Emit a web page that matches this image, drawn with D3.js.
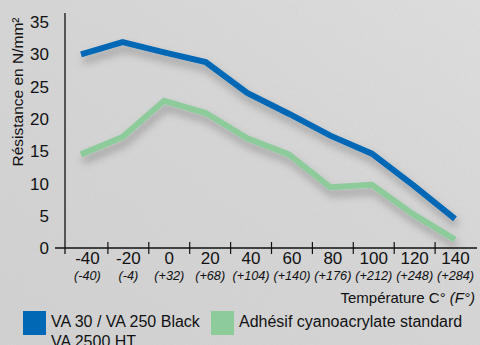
<!DOCTYPE html>
<html>
<head>
<meta charset="utf-8">
<script src="https://cdn.jsdelivr.net/npm/d3@7"></script>
<style>
  html, body { margin: 0; padding: 0; background: #d6d6d7; }
  svg { display: block; font-family: "Liberation Sans", Arial, sans-serif; }
</style>
</head>
<body>
<div class="chart"></div>
<script>
// températures (°C) et équivalents °F
const tempsC = [-40, -20, 0, 20, 40, 60, 80, 100, 120, 140];
const tempsF = ['(-40)', '(-4)', '(+32)', '(+68)', '(+104)', '(+140)', '(+176)', '(+212)', '(+248)', '(+284)'];
const yTicks = [0, 5, 10, 15, 20, 25, 30, 35];

// résistance en N/mm²
const vaValues = [30.0, 31.9, 30.3, 28.8, 24.0, 20.8, 17.4, 14.6, 9.7, 4.5];
const cyanoValues = [14.5, 17.2, 22.8, 20.9, 17.0, 14.5, 9.4, 9.8, 5.2, 1.3];

const series = [
    { name: 'VA 30 / VA 250 Black', name2: 'VA 2500 HT', values: vaValues, color: '#0068b5' },
    { name: 'Adhésif cyanoacrylate standard', values: cyanoValues, color: '#8dcb9b' }
];

const W = 480, H = 345;

const svg = d3.select('.chart').append('svg')
    .attr('width', W).attr('height', H);

// fond béton
const defs = svg.append('defs');
const grad = defs.append('linearGradient').attr('id', 'bg')
    .attr('x1', 0).attr('y1', 1).attr('x2', 1).attr('y2', 0);
grad.append('stop').attr('offset', 0).attr('stop-color', '#d2d2d3');
grad.append('stop').attr('offset', 0.6).attr('stop-color', '#d8d8d9');
grad.append('stop').attr('offset', 1).attr('stop-color', '#e0e0e1');
const tex = defs.append('filter').attr('id', 'concrete')
    .attr('x', 0).attr('y', 0).attr('width', '100%').attr('height', '100%');
tex.append('feTurbulence').attr('type', 'fractalNoise')
    .attr('baseFrequency', '0.9 0.35').attr('numOctaves', 3).attr('seed', 4).attr('result', 'n');
tex.append('feColorMatrix').attr('type', 'matrix')
    .attr('values', '0 0 0 0 0.5  0 0 0 0 0.5  0 0 0 0 0.5  0 0 0 0.22 0');
const shadow = defs.append('filter').attr('id', 'shadow')
    .attr('x', '-10%').attr('y', '-20%').attr('width', '130%').attr('height', '160%');
shadow.append('feDropShadow').attr('dx', 2).attr('dy', 6).attr('stdDeviation', 4)
    .attr('flood-color', '#000').attr('flood-opacity', 0.28);

svg.append('rect').attr('width', W).attr('height', H).attr('fill', 'url(#bg)');
svg.append('rect').attr('width', W).attr('height', H).attr('filter', 'url(#concrete)');

// échelles
const yScale = d3.scaleLinear().domain([0, 35]).range([248, 22]);
const xBand = d3.scaleBand().domain(tempsC).range([67, 476]);
const xLine = d3.scaleLinear().domain([-40, 140]).range([81, 455]);

// axe Y
svg.append('line').attr('x1', 65).attr('x2', 65).attr('y1', 13).attr('y2', 254)
    .attr('stroke', '#111').attr('stroke-width', 1.3);
svg.selectAll('.ylab').data(yTicks).enter().append('text')
    .attr('class', 'ylab')
    .attr('x', 49).attr('y', d => yScale(d)).attr('dy', '0.36em')
    .attr('text-anchor', 'end').attr('font-size', 17).attr('fill', '#111')
    .text(d => d);
svg.append('text')
    .attr('transform', 'translate(23,92) rotate(-90)')
    .attr('text-anchor', 'middle').attr('font-size', 15.5).attr('fill', '#111')
    .text('Résistance en N/mm²');

// axe X
svg.append('line').attr('x1', 55).attr('x2', 477).attr('y1', 248).attr('y2', 248)
    .attr('stroke', '#111').attr('stroke-width', 1.3);
svg.selectAll('.xtick').data(tempsC.slice(1)).enter().append('line')
    .attr('class', 'xtick')
    .attr('x1', d => xBand(d)).attr('x2', d => xBand(d))
    .attr('y1', 242).attr('y2', 254)
    .attr('stroke', '#111').attr('stroke-width', 1.2);
svg.selectAll('.xlab').data(tempsC).enter().append('text')
    .attr('class', 'xlab')
    .attr('x', d => xBand(d) + xBand.bandwidth() / 2).attr('y', 264)
    .attr('text-anchor', 'middle').attr('font-size', 17).attr('fill', '#111')
    .text(d => d);
svg.selectAll('.flab').data(tempsF).enter().append('text')
    .attr('class', 'flab')
    .attr('x', (d, i) => xBand(tempsC[i]) + xBand.bandwidth() / 2).attr('y', 280)
    .attr('text-anchor', 'middle').attr('font-size', 12.7).attr('font-style', 'italic').attr('fill', '#111')
    .text(d => d);
const xt = svg.append('text').attr('x', 475).attr('y', 303)
    .attr('text-anchor', 'end').attr('font-size', 15).attr('fill', '#111');
xt.append('tspan').text('Température C° ');
xt.append('tspan').attr('font-style', 'italic').text('(F°)');

// courbes
const line = d3.line()
    .x((d, i) => xLine(tempsC[i]))
    .y(d => yScale(d));
svg.selectAll('.serie').data(series.slice().reverse()).enter().append('path')
    .attr('class', 'serie')
    .attr('d', d => line(d.values))
    .attr('fill', 'none')
    .attr('stroke', d => d.color)
    .attr('stroke-width', 6)
    .attr('filter', 'url(#shadow)');

// légende
const legX = [23, 211];
const leg = svg.selectAll('.leg').data(series).enter().append('g')
    .attr('class', 'leg')
    .attr('transform', (d, i) => `translate(${legX[i]},311)`);
leg.append('rect').attr('width', 23).attr('height', 24).attr('fill', d => d.color);
leg.append('text').attr('x', 28).attr('y', 15.5)
    .attr('font-size', 16).attr('fill', '#111')
    .text(d => d.name);
leg.filter(d => d.name2).append('text').attr('x', 28).attr('y', 35.5)
    .attr('font-size', 16).attr('fill', '#111')
    .text(d => d.name2);
</script>
</body>
</html>
